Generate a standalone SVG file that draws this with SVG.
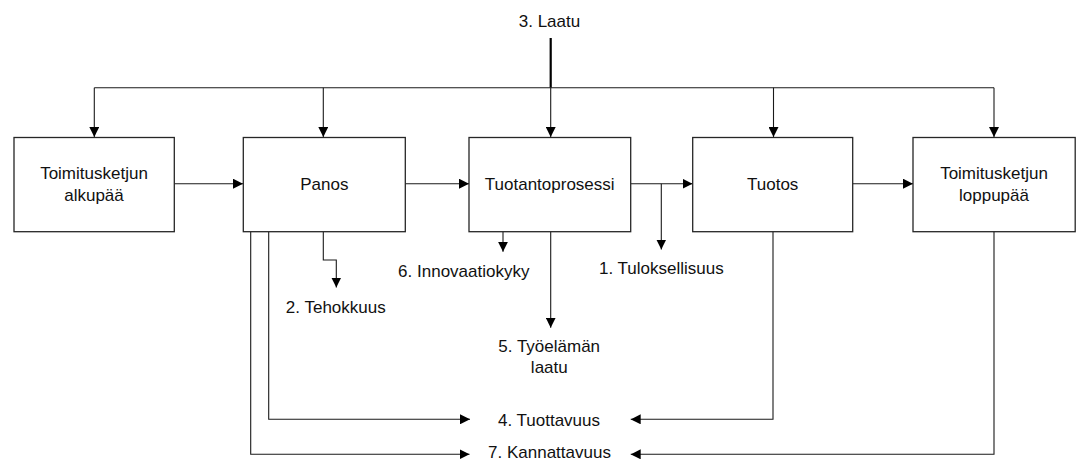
<svg xmlns="http://www.w3.org/2000/svg" width="1077" height="462" viewBox="0 0 1077 462">
  <style>
    .box { fill: #ffffff; stroke: #262626; stroke-width: 1.3; }
    .lbl { font-family: "Liberation Sans", Arial, sans-serif; font-size: 17px; fill: #111111; text-anchor: middle; }
    .wire { fill: none; stroke: #1a1a1a; stroke-width: 1.1; }
    .arrow { marker-end: url(#head); }
  </style>
  <defs>
    <marker id="head" markerUnits="userSpaceOnUse" markerWidth="10" markerHeight="10" refX="10" refY="5" orient="auto">
      <path d="M0,0 L10,5 L0,10 z" fill="#000000"/>
    </marker>
  </defs>

  <!-- connectors -->
  <g id="connectors">
    <!-- quality feed from the top -->
    <path d="M550.7,38 V87.7" stroke="#000000" stroke-width="2.2" fill="none"/>
    <path class="wire" d="M94.3,87.7 H994"/>
    <path class="wire arrow" d="M94.3,87.7 V137"/>
    <path class="wire arrow" d="M323.3,87.7 V137"/>
    <path class="wire arrow" d="M550.7,87.7 V137"/>
    <path class="wire arrow" d="M773.5,87.7 V137"/>
    <path class="wire arrow" d="M994,87.7 V137"/>

    <!-- main chain -->
    <path class="wire arrow" d="M174.3,183.7 H243"/>
    <path class="wire arrow" d="M405.3,183.7 H469"/>
    <path class="wire arrow" d="M630.7,183.7 H692.5"/>
    <path class="wire arrow" d="M852.7,183.7 H913"/>

    <!-- measures -->
    <path class="wire arrow" d="M661.3,183.7 V249.5"/>
    <path class="wire arrow" d="M323.3,231.7 V260 H336.3 V287.5"/>
    <path class="wire arrow" d="M503,231.7 V251.7"/>
    <path class="wire arrow" d="M550.7,231.7 V327.7"/>
    <path class="wire arrow" d="M268.7,231.7 V419.3 H470"/>
    <path class="wire arrow" d="M250.7,231.7 V454.3 H469.5"/>
    <path class="wire arrow" d="M773,231.7 V419.3 H630.7"/>
    <path class="wire arrow" d="M994,231.7 V454.3 H630.7"/>
  </g>

  <!-- nodes -->
  <g id="alkupaa">
    <rect class="box" x="14" y="137.5" width="160.3" height="94.2"/>
    <text class="lbl" x="94" y="179.3">Toimitusketjun</text>
    <text class="lbl" x="94" y="200.7">alkupää</text>
  </g>
  <g id="panos">
    <rect class="box" x="243.3" y="137.5" width="162" height="94.2"/>
    <text class="lbl" x="324.3" y="190">Panos</text>
  </g>
  <g id="tuotantoprosessi">
    <rect class="box" x="469" y="137.5" width="161.7" height="94.2"/>
    <text class="lbl" x="549.7" y="190">Tuotantoprosessi</text>
  </g>
  <g id="tuotos">
    <rect class="box" x="692.7" y="137.5" width="160" height="94.2"/>
    <text class="lbl" x="772.7" y="190">Tuotos</text>
  </g>
  <g id="loppupaa">
    <rect class="box" x="913" y="137.5" width="162.2" height="94.2"/>
    <text class="lbl" x="994" y="179.3">Toimitusketjun</text>
    <text class="lbl" x="994" y="200.7">loppupää</text>
  </g>

  <!-- measure labels -->
  <g id="laatu">
    <text class="lbl" x="549.5" y="27.3">3. Laatu</text>
  </g>
  <g id="tehokkuus">
    <text class="lbl" x="335.8" y="313.3">2. Tehokkuus</text>
  </g>
  <g id="innovaatiokyky">
    <text class="lbl" x="463.8" y="277.3">6. Innovaatiokyky</text>
  </g>
  <g id="tuloksellisuus">
    <text class="lbl" x="661.3" y="274">1. Tuloksellisuus</text>
  </g>
  <g id="tyoelama">
    <text class="lbl" x="549.2" y="352.3">5. Työelämän</text>
    <text class="lbl" x="549.3" y="372.7">laatu</text>
  </g>
  <g id="tuottavuus">
    <text class="lbl" x="549" y="426">4. Tuottavuus</text>
  </g>
  <g id="kannattavuus">
    <text class="lbl" x="549.5" y="458">7. Kannattavuus</text>
  </g>
</svg>
